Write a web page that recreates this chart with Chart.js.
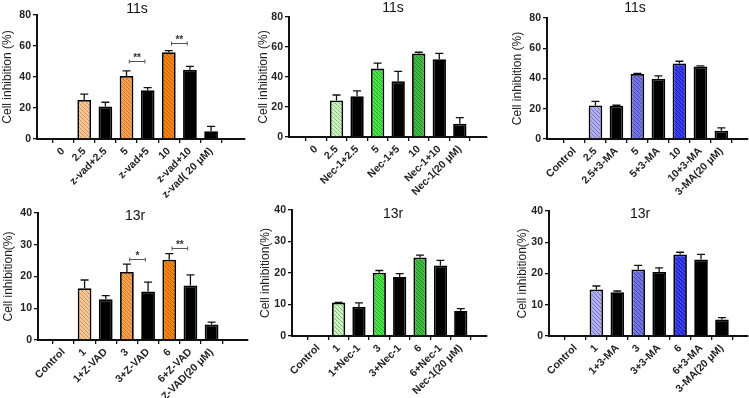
<!DOCTYPE html>
<html>
<head>
<meta charset="utf-8">
<script src="https://cdn.jsdelivr.net/npm/chart.js@4.4.0/dist/chart.umd.min.js"></script>
<style>
  body { margin: 0; background: #fff; width: 749px; height: 398px; position: relative; overflow: hidden; }
  canvas { position: absolute; }
</style>
</head>
<body>
<canvas id="p1"></canvas>
<canvas id="p2"></canvas>
<canvas id="p3"></canvas>
<canvas id="p4"></canvas>
<canvas id="p5"></canvas>
<canvas id="p6"></canvas>
<script>
// ---- data ----
const labels11z = ['0', '2.5', 'z-vad+2.5', '5', 'z-vad+5', '10', 'z-vad+10', 'z-vad( 20 μM)'];
const means11z = [0, 25.2, 21.0, 40.7, 31.5, 56.0, 44.6, 5.0];
const sd11z = [0, 3.7, 2.7, 3.3, 1.6, 1.0, 2.3, 3.1];
const sig11z = [{ from: 3, to: 4, level: 50.5, text: '**' }, { from: 5, to: 6, level: 61.8, text: '**' }];

const labels11n = ['0', '2.5', 'Nec-1+2.5', '5', 'Nec-1+5', '10', 'Nec-1+10', 'Nec-1(20 μM)'];
const means11n = [0, 24.3, 27.2, 45.6, 37.1, 55.6, 51.8, 8.9];
const sd11n = [0, 3.7, 3.6, 3.7, 6.7, 0.9, 4.0, 4.0];

const labels11m = ['Control', '2.5', '2.5+3-MA', '5', '5+3-MA', '10', '10+3-MA', '3-MA(20 μM)'];
const means11m = [0, 22.1, 22.0, 43.0, 39.8, 50.0, 48.0, 5.5];
const sd11m = [0, 2.8, 0.3, 0.3, 2.0, 1.4, 0.3, 1.8];

const labels13z = ['Control', '1', '1+Z-VAD', '3', '3+Z-VAD', '6', '6+Z-VAD', 'Z-VAD(20 μM)'];
const means13z = [0, 16.3, 12.8, 21.4, 15.3, 25.3, 17.2, 4.9];
const sd13z = [0, 2.6, 1.2, 2.5, 2.9, 1.9, 3.3, 0.7];
const sig13z = [{ from: 3, to: 4, level: 25.5, text: '*' }, { from: 5, to: 6, level: 28.9, text: '**' }];

const labels13n = ['Control', '1', '1+Nec-1', '3', '3+Nec-1', '6', '6+Nec-1', 'Nec-1(20 μM)'];
const means13n = [0, 10.6, 9.2, 20.1, 18.7, 24.9, 22.4, 7.9];
const sd13n = [0, 0.1, 1.3, 0.7, 1.1, 0.8, 1.6, 0.8];

const labels13m = ['Control', '1', '1+3-MA', '3', '3+3-MA', '6', '6+3-MA', '3-MA(20 μM)'];
const means13m = [0, 14.9, 14.0, 21.3, 20.5, 26.1, 24.5, 5.3];
const sd13m = [0, 1.1, 0.4, 1.3, 1.3, 0.7, 1.6, 0.6];

const FONT = "'Liberation Sans', Arial, sans-serif";

// diagonal hatch fill, GraphPad style
function hatch(base, line) {
  const c = document.createElement('canvas');
  c.width = 4; c.height = 4;
  const g = c.getContext('2d');
  g.fillStyle = base;
  g.fillRect(0, 0, 4, 4);
  g.strokeStyle = line;
  g.lineWidth = 1;
  g.beginPath();
  g.moveTo(-1, -1); g.lineTo(5, 5);
  g.moveTo(-1, 3); g.lineTo(1, 5);
  g.moveTo(3, -1); g.lineTo(5, 1);
  g.stroke();
  return g.createPattern(c, 'repeat');
}

const orange = [hatch('#f6c99a', '#d9904c'), hatch('#f3a24f', '#d0741f'), hatch('#f08512', '#c66000')];
const green = [hatch('#d2f0c8', '#78c868'), hatch('#4fe04f', '#1fb21f'), hatch('#44bb44', '#1f8a1f')];
const blue = [hatch('#b0b0ec', '#7474cc'), hatch('#7474e2', '#4848ba'), hatch('#3a40f2', '#1818b4')];

function barColors(shades) {
  return ['#000', shades[0], '#000', shades[1], '#000', shades[2], '#000', '#000'];
}

// upper error bars
const errorBars = {
  id: 'errorBars',
  afterDatasetsDraw(chart) {
    const { ctx } = chart;
    const yScale = chart.scales.y;
    chart.data.datasets.forEach((ds, di) => {
      const meta = chart.getDatasetMeta(di);
      meta.data.forEach((bar, i) => {
        const e = ds.errors[i];
        if (!e) return;
        const top = yScale.getPixelForValue(ds.data[i].y + e);
        ctx.save();
        ctx.strokeStyle = '#111';
        ctx.lineWidth = 1.3;
        ctx.beginPath();
        ctx.moveTo(bar.x, bar.y);
        ctx.lineTo(bar.x, top);
        ctx.moveTo(bar.x - 4, top);
        ctx.lineTo(bar.x + 4, top);
        ctx.stroke();
        ctx.restore();
      });
    });
  },
};

// significance brackets
const sigMarks = {
  id: 'sigMarks',
  afterDatasetsDraw(chart, args, opts) {
    const { ctx } = chart;
    const { x, y } = chart.scales;
    (opts.marks || []).forEach((m) => {
      const x1 = x.getPixelForValue(m.from + 0.13);
      const x2 = x.getPixelForValue(m.to - 0.13);
      const yy = Math.round(y.getPixelForValue(m.level)) + 0.5;
      ctx.save();
      ctx.strokeStyle = '#555';
      ctx.lineWidth = 1;
      ctx.beginPath();
      ctx.moveTo(x1, yy - 2); ctx.lineTo(x1, yy + 2);
      ctx.moveTo(x1, yy); ctx.lineTo(x2, yy);
      ctx.moveTo(x2, yy - 2); ctx.lineTo(x2, yy + 2);
      ctx.stroke();
      ctx.fillStyle = '#333';
      ctx.font = 'bold 10px ' + FONT;
      ctx.textAlign = 'center';
      ctx.textBaseline = 'middle';
      ctx.fillText(m.text, (x1 + x2) / 2, yy - 3);
      ctx.restore();
    });
  },
};

// panel title placed freely
const panelTitle = {
  id: 'panelTitle',
  afterDraw(chart, args, opts) {
    const { ctx } = chart;
    ctx.save();
    ctx.fillStyle = '#111';
    ctx.font = '14px ' + FONT;
    ctx.textAlign = 'center';
    ctx.textBaseline = 'middle';
    ctx.fillText(opts.text, opts.x, opts.y);
    ctx.restore();
  },
};

const panels = [
  { id: 'p1', title: '11s', labels: labels11z, means: means11z, sd: sd11z, colors: barColors(orange), sig: sig11z,
    yMax: 80, yStep: 20, yTitle: 'Cell inhibition (%)',
    box: [0, 0, 248, 198], plot: [37, 15, 245, 139], xRange: [-0.62, 7.99], titleAt: [137, 9] },
  { id: 'p2', title: '11s', labels: labels11n, means: means11n, sd: sd11n, colors: barColors(green), sig: [],
    yMax: 80, yStep: 20, yTitle: 'Cell inhibition (%)',
    box: [256, 0, 234, 198], plot: [289, 17, 487, 137], xRange: [-0.71, 7.72], titleAt: [393, 8] },
  { id: 'p3', title: '11s', labels: labels11m, means: means11m, sd: sd11m, colors: barColors(blue), sig: [],
    yMax: 80, yStep: 20, yTitle: 'Cell inhibition (%)',
    box: [510, 0, 239, 198], plot: [547, 18, 748, 139], xRange: [-0.71, 7.67], titleAt: [635, 8] },
  { id: 'p4', title: '13r', labels: labels13z, means: means13z, sd: sd13z, colors: barColors(orange), sig: sig13z,
    yMax: 40, yStep: 10, yTitle: 'Cell inhibition(%)',
    box: [1, 198, 250, 200], plot: [38, 213, 248, 340], xRange: [-0.58, 8.1], titleAt: [135, 216] },
  { id: 'p5', title: '13r', labels: labels13n, means: means13n, sd: sd13n, colors: barColors(green), sig: [],
    yMax: 40, yStep: 10, yTitle: 'Cell inhibition(%)',
    box: [258, 198, 232, 200], plot: [292, 210, 487, 336], xRange: [-0.69, 7.69], titleAt: [393, 214] },
  { id: 'p6', title: '13r', labels: labels13m, means: means13m, sd: sd13m, colors: barColors(blue), sig: [],
    yMax: 40, yStep: 10, yTitle: 'Cell inhibition(%)',
    box: [515, 198, 234, 200], plot: [549, 211, 748, 336], xRange: [-0.67, 7.65], titleAt: [640, 214] },
];

panels.forEach((p) => {
  const [bx, by, bw, bh] = p.box;
  const [pl, pt, pr, pb] = p.plot;
  const canvas = document.getElementById(p.id);
  canvas.width = bw;
  canvas.height = bh;
  canvas.style.left = bx + 'px';
  canvas.style.top = by + 'px';

  new Chart(canvas, {
    type: 'bar',
    data: {
      datasets: [{
        data: p.means.map((v, i) => ({ x: i, y: v })),
        errors: p.sd,
        backgroundColor: p.colors,
        borderColor: '#000',
        borderWidth: 1.8,
        borderSkipped: 'bottom',
        barPercentage: 0.65,
        categoryPercentage: 1,
      }],
    },
    options: {
      responsive: false,
      animation: false,
      devicePixelRatio: 1,
      layout: { padding: { left: 0, top: pt - by, right: bx + bw - pr, bottom: 0 } },
      plugins: {
        legend: { display: false },
        tooltip: { enabled: false },
        panelTitle: { text: p.title, x: p.titleAt[0] - bx, y: p.titleAt[1] - by },
        sigMarks: { marks: p.sig },
      },
      scales: {
        x: {
          type: 'linear',
          min: p.xRange[0],
          max: p.xRange[1],
          afterBuildTicks: (s) => { s.ticks = p.labels.map((_, i) => ({ value: i })); },
          afterFit: (s) => { s.height = by + bh - pb; },
          ticks: {
            autoSkip: false,
            minRotation: 45,
            maxRotation: 45,
            padding: 2,
            color: '#222',
            font: { family: FONT, size: 10.5, weight: 'bold' },
            callback: (v) => p.labels[v],
          },
          grid: { drawOnChartArea: false, drawTicks: true, tickLength: 4, color: '#111', lineWidth: 1.3 },
          border: { color: '#111', width: 2 },
        },
        y: {
          min: 0,
          max: p.yMax,
          afterFit: (s) => { s.width = pl - bx; },
          ticks: {
            stepSize: p.yStep,
            padding: 2,
            color: '#222',
            font: { family: FONT, size: 10.5, weight: 'bold' },
          },
          grid: { drawOnChartArea: false, drawTicks: true, tickLength: 4, color: '#111', lineWidth: 1.3 },
          border: { color: '#111', width: 2 },
          title: {
            display: true,
            text: p.yTitle,
            color: '#222',
            padding: 0,
            font: { family: FONT, size: 12 },
          },
        },
      },
    },
    plugins: [errorBars, sigMarks, panelTitle],
  });
});
</script>
</body>
</html>
